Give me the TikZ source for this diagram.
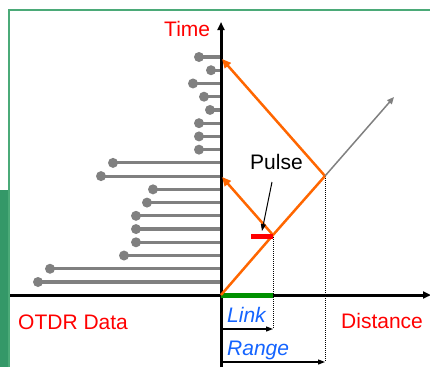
\documentclass[tikz,border=0pt]{standalone}
\usepackage{fontspec}
\setmainfont{Liberation Sans}
\usetikzlibrary{arrows.meta}
\definecolor{framegreen}{RGB}{75,170,120}
\definecolor{stripgreen}{RGB}{52,152,104}
\definecolor{eventgray}{RGB}{128,128,128}
\definecolor{pulseorange}{RGB}{255,102,0}
\definecolor{linkgreen}{RGB}{0,145,0}
\definecolor{labelblue}{RGB}{20,100,255}
\tikzset{
  lbl/.style={inner sep=0pt, anchor=base west, font=\fontsize{21}{25}\selectfont},
  axisline/.style={line width=3pt, -{Triangle[length=8pt,width=7pt]}},
  event/.style={eventgray, line width=3.2pt},
  ray/.style={pulseorange, line width=2.5pt},
  raytip/.style={ray, -{Triangle[length=9pt,width=8pt]}},
  guide/.style={black, line width=1pt, dash pattern=on 1pt off 1pt},
  span/.style={black, line width=1.2pt, -{Triangle[length=7pt,width=5pt]}}
}
\begin{document}
\begin{tikzpicture}[x=1pt,y=-1pt]
\useasboundingbox (0,0) rectangle (430,367);
% frame and side strip
\fill[stripgreen] (0,190) rectangle (8,367);
\draw[framegreen, line width=2pt] (8.5,367) -- (8.5,10) -- (430,10);

% key points
\coordinate (O) at (221,295);
\coordinate (P) at (273,235);
\coordinate (R) at (325,176);
\coordinate (T) at (222,59);
\coordinate (M) at (222,177);
\coordinate (G) at (394,97);
\coordinate (Ybot) at (221,367);
\coordinate (Ytop) at (221,22);
\coordinate (Xl) at (10,295);
\coordinate (Xr) at (431,295);

% returned events (OTDR trace)
\foreach \xl [count=\i from 0] in {199,211,193,204,210,199,199,199,113,101,153,147,136,136,136,124,50,38}{
  \pgfmathsetmacro{\yy}{57+13.235*\i}
  \draw[event] (\xl,\yy) -- (221,\yy);
  \fill[eventgray] (\xl,\yy) circle (5pt);
}

% axes
\draw[axisline] (Ybot) -- (Ytop);
\draw[axisline] (Xl) -- (Xr);

% link length on the distance axis
\draw[linkgreen, line width=5pt] (O) -- (P |- O);

% guides
\draw[guide] (P) -- (273,329);
\draw[guide] (R) -- (325,362);

% pulse travel
\draw[ray] (O) -- (P) -- (R);
\draw[raytip] (R) -- (T);
\draw[raytip] (P) -- (M);
\draw[eventgray, line width=1.5pt, -{Triangle[length=7pt,width=6pt]}] (R) -- (G);

% pulse marker
\draw[red, line width=5pt] (251,236) -- (273,236);
\coordinate (Pa) at (272,182);
\coordinate (Pb) at (262,231);
\draw[black, line width=1pt, -{Triangle[length=7pt,width=5pt]}] (Pa) -- (Pb);

% spans
\draw[span] (221,329) -- (273,329);
\draw[span] (221,362) -- (325,362);

% labels
\node[lbl, red] (time) at (164,36) {Time};
\node[lbl, black] (pulse) at (250,169) {Pulse};
\node[lbl, red] (otdr) at (18,329) {OTDR Data};
\node[lbl, red] (dist) at (341,328) {Distance};
\node[lbl, labelblue] (link) at (227,322) {\itshape Link};
\node[lbl, labelblue] (range) at (227,355) {\itshape Range};
\end{tikzpicture}
\end{document}
